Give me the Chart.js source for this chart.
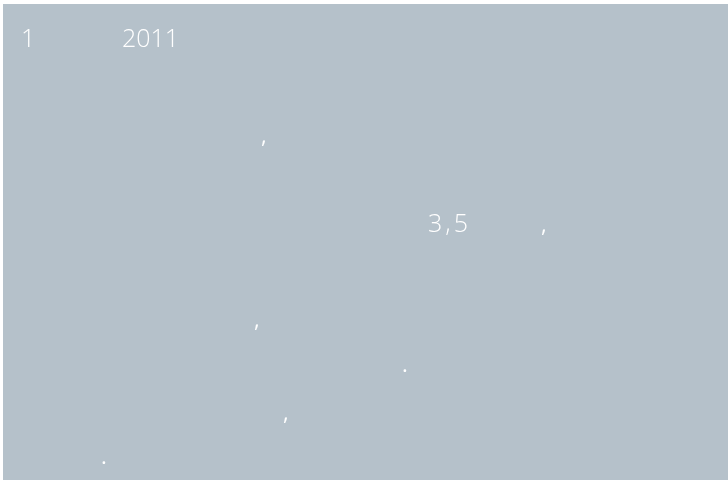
<!DOCTYPE html>
<html>
<head>
<meta charset="utf-8">
<script src="https://cdn.jsdelivr.net/npm/chart.js@4.4.1/dist/chart.umd.min.js"></script>
<style>
  html, body { margin: 0; padding: 0; background: #ffffff; }
  #wrap { width: 728px; height: 481px; }
</style>
</head>
<body>
<div id="wrap"><canvas id="slide" width="728" height="481"></canvas></div>
<script>
// visible text fragments of the slide (the rest of the glyphs did not render)
var headline = ["1", "2011"];
var bodyText = [",", "3,5", ",", ",", ".", ",", "."];

// where each fragment sits (x, baseline y) and how it is set
var headlinePos = [[21, 47], [122, 47]];
var bodyPos = [[261, 143], [428, 232], [541, 232], [254, 327], [402, 372], [283, 420], [101, 464]];
var bodySize = [22, 25, 22, 22, 22, 22, 22];
var bodyWeight = [400, 300, 400, 400, 400, 400, 400];
var bodySpacing = [0, 3, 0, 0, 0, 0, 0];

var slidePlugin = {
  id: "slide",
  beforeDraw: function(chart) {
    var c = chart.ctx;
    c.save();
    c.fillStyle = "#ffffff";
    c.fillRect(0, 0, chart.width, chart.height);
    c.fillStyle = "#b5c1ca";
    c.fillRect(3, 4, chart.width - 3, chart.height - 5);
    c.fillStyle = "#ffffff";
    c.textBaseline = "alphabetic";
    c.textAlign = "left";
    c.font = "300 25px 'Open Sans', sans-serif";
    c.letterSpacing = "0px";
    for (var i = 0; i < headline.length; i++) {
      c.fillText(headline[i], headlinePos[i][0], headlinePos[i][1]);
    }
    for (var j = 0; j < bodyText.length; j++) {
      c.font = bodyWeight[j] + " " + bodySize[j] + "px 'Open Sans', sans-serif";
      c.letterSpacing = bodySpacing[j] + "px";
      c.fillText(bodyText[j], bodyPos[j][0], bodyPos[j][1]);
    }
    c.restore();
  }
};

var ctx = document.getElementById("slide");
var chart = new Chart(ctx, {
  type: "bar",
  data: { labels: [], datasets: [] },
  options: {
    responsive: false,
    animation: false,
    events: [],
    layout: { padding: 0 },
    plugins: { legend: { display: false }, tooltip: { enabled: false }, title: { display: false } },
    scales: { x: { display: false }, y: { display: false } }
  },
  plugins: [slidePlugin]
});
</script>
</body>
</html>
